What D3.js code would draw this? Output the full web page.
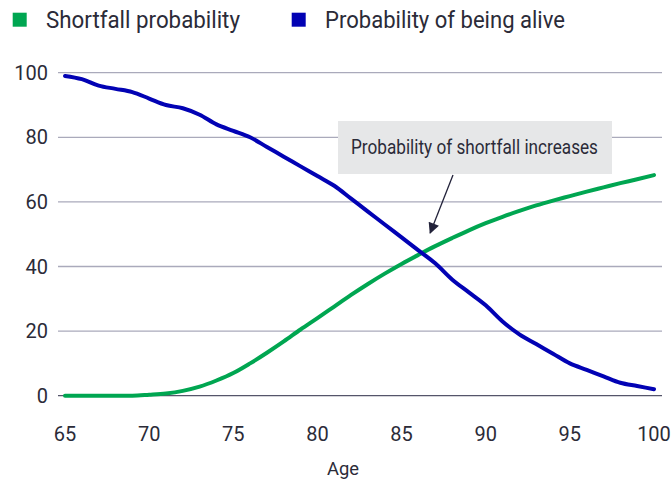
<!DOCTYPE html>
<html>
<head>
<meta charset="utf-8">
<script src="https://cdn.jsdelivr.net/npm/d3@7"></script>
<style>
  body { margin: 0; background: #fff; }
  text { font-family: Roboto, "DejaVu Sans", sans-serif; fill: #2b2b38; }
</style>
</head>
<body>
<script>
var ages = d3.range(65, 101);
var shortfall = [0, 0, 0, 0, 0, 0.3, 0.7, 1.5, 2.8, 4.7, 7, 10, 13.3, 16.8, 20.5, 24, 27.6, 31.2, 34.6, 37.8,
  40.8, 43.6, 46.3, 48.8, 51.2, 53.4, 55.4, 57.2, 58.9, 60.4, 61.8, 63.2, 64.5, 65.8, 67, 68.3];
var alive = [99, 98, 96, 95, 94, 92, 90, 89, 87, 84, 82, 80, 77, 74, 71, 68, 65, 61, 57, 53,
  49, 45, 41, 36, 32, 28, 23, 19, 16, 13, 10, 8, 6, 4, 3, 2];
var xTicks = [65, 70, 75, 80, 85, 90, 95, 100];
var yTicks = [0, 20, 40, 60, 80, 100];
var seriesNames = ["Shortfall probability", "Probability of being alive"];
var seriesColors = ["#00a651", "#0202b4"];
var note = "Probability of shortfall increases";

var width = 672, height = 480;
var svg = d3.select("body").append("svg").attr("width", width).attr("height", height);

var x = d3.scaleLinear().domain([65, 100]).range([65, 654]);
var y = d3.scaleLinear().domain([0, 100]).range([395.7, 72.7]);

// gridlines
svg.append("g").selectAll("line").data(yTicks).enter().append("line")
  .attr("x1", 58).attr("x2", 662)
  .attr("y1", function(d){ return y(d); }).attr("y2", function(d){ return y(d); })
  .attr("stroke", function(d){ return d === 0 ? "#55556a" : "#aaaabb"; })
  .attr("stroke-width", 1.3);

// y labels
svg.append("g").selectAll("text").data(yTicks).enter().append("text")
  .attr("x", 48).attr("y", function(d){ return y(d) + 7; })
  .attr("text-anchor", "end").attr("font-size", 20).text(function(d){ return d; });

// x labels
svg.append("g").selectAll("text").data(xTicks).enter().append("text")
  .attr("x", function(d){ return x(d); }).attr("y", 441)
  .attr("text-anchor", "middle").attr("font-size", 20).text(function(d){ return d; });

svg.append("text").attr("x", 327).attr("y", 475)
  .attr("font-size", 19).attr("textLength", 32).attr("lengthAdjust", "spacingAndGlyphs").text("Age");

// lines
var line = d3.line().curve(d3.curveMonotoneX)
  .x(function(d, i){ return x(ages[i]); })
  .y(function(d){ return y(d); });
[shortfall, alive].forEach(function(s, i){
  svg.append("path").attr("d", line(s))
    .attr("fill", "none").attr("stroke", seriesColors[i])
    .attr("stroke-width", 4).attr("stroke-linecap", "round").attr("stroke-linejoin", "round");
});

// annotation
svg.append("rect").attr("x", 338).attr("y", 121).attr("width", 274).attr("height", 53).attr("fill", "#e6e7e8");
svg.append("text").attr("x", 351).attr("y", 154).attr("font-size", 19.5)
  .attr("textLength", 247).attr("lengthAdjust", "spacingAndGlyphs").text(note);

svg.append("defs").append("marker").attr("id", "arr")
  .attr("viewBox", "0 0 10 10").attr("refX", 9).attr("refY", 5)
  .attr("markerWidth", 14).attr("markerHeight", 11).attr("markerUnits", "userSpaceOnUse")
  .attr("orient", "auto")
  .append("path").attr("d", "M0,0L10,5L0,10z").attr("fill", "#22223a");
svg.append("line").attr("x1", 453).attr("y1", 175)
  .attr("x2", x(86.7)).attr("y2", y(50.4))
  .attr("stroke", "#22223a").attr("stroke-width", 1.3).attr("marker-end", "url(#arr)");

// legend
var lx = [12.7, 291.7], lw = [194, 240];
seriesNames.forEach(function(n, i){
  svg.append("rect").attr("x", lx[i]).attr("y", 12.7).attr("width", 14).attr("height", 14).attr("fill", seriesColors[i]);
  svg.append("text").attr("x", lx[i] + 33.3).attr("y", 27.5).attr("font-size", 23)
    .attr("textLength", lw[i]).attr("lengthAdjust", "spacingAndGlyphs").text(n);
});
</script>
</body>
</html>
